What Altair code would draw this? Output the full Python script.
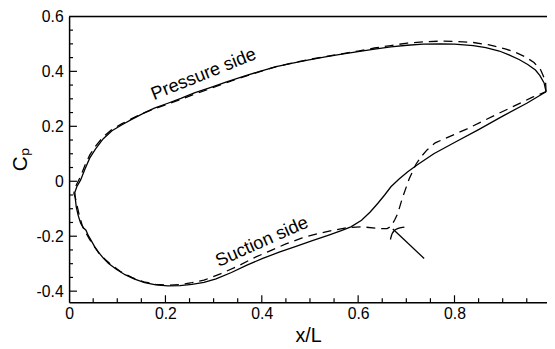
import altair as alt
import pandas as pd

# ---- data (x/L, Cp) ----
solid_x = [0.990, 0.986, 0.977, 0.968, 0.952, 0.934, 0.913, 0.893, 0.865, 0.839, 0.800, 0.771, 0.735, 0.702,
           0.668, 0.634, 0.600, 0.566, 0.532, 0.498, 0.464, 0.430, 0.396, 0.362, 0.327, 0.293, 0.260, 0.232,
           0.205, 0.177, 0.153, 0.130, 0.109, 0.089, 0.071, 0.055, 0.043, 0.033, 0.024, 0.016, 0.012,
           0.013, 0.015, 0.019, 0.024, 0.030, 0.035, 0.040, 0.046, 0.053, 0.061, 0.071, 0.082, 0.098, 0.116,
           0.136, 0.157, 0.180, 0.205, 0.230, 0.255, 0.280, 0.305, 0.337, 0.368, 0.402, 0.436, 0.471, 0.505,
           0.539, 0.565, 0.585, 0.607, 0.625, 0.641, 0.655, 0.668, 0.685, 0.703, 0.723, 0.757, 0.800, 0.850,
           0.900, 0.950, 0.990]
solid_y = [0.326, 0.358, 0.385, 0.405, 0.425, 0.443, 0.460, 0.474, 0.486, 0.494, 0.499, 0.500, 0.499, 0.495,
           0.489, 0.481, 0.472, 0.463, 0.453, 0.442, 0.430, 0.417, 0.400, 0.382, 0.362, 0.341, 0.322, 0.302,
           0.284, 0.266, 0.246, 0.225, 0.205, 0.184, 0.155, 0.118, 0.085, 0.045, 0.005, -0.020, -0.040,
           -0.065, -0.095, -0.125, -0.153, -0.170, -0.178, -0.198, -0.216, -0.238, -0.258, -0.280, -0.299, -0.320, -0.340,
           -0.356, -0.369, -0.377, -0.381, -0.380, -0.375, -0.368, -0.355, -0.332, -0.306, -0.281, -0.258, -0.237, -0.216,
           -0.196, -0.180, -0.166, -0.142, -0.112, -0.080, -0.050, -0.020, 0.008, 0.035, 0.060, 0.100, 0.141, 0.188,
           0.237, 0.284, 0.326]

dash_x = [0.990, 0.989, 0.979, 0.965, 0.948, 0.928, 0.907, 0.870, 0.839, 0.800, 0.771, 0.735, 0.702, 0.668,
          0.634, 0.600, 0.566, 0.532, 0.498, 0.464, 0.430, 0.396, 0.362, 0.327, 0.293, 0.260, 0.232, 0.205,
          0.177, 0.153, 0.130, 0.109, 0.089, 0.071, 0.055, 0.043, 0.033, 0.024, 0.016, 0.011, 0.010,
          0.013, 0.018, 0.022, 0.028, 0.034, 0.042, 0.050, 0.062, 0.075, 0.090, 0.108, 0.130, 0.155, 0.180,
          0.205, 0.230, 0.255, 0.280, 0.314, 0.348, 0.382, 0.416, 0.450, 0.484, 0.518, 0.552, 0.580, 0.610,
          0.641, 0.660, 0.668, 0.676, 0.682, 0.692, 0.706, 0.720, 0.732, 0.743, 0.760, 0.777, 0.825, 0.893,
          0.962, 0.990]
dash_y = [0.326, 0.364, 0.405, 0.432, 0.452, 0.468, 0.481, 0.497, 0.505, 0.509, 0.510, 0.507, 0.503, 0.494,
          0.485, 0.474, 0.464, 0.454, 0.443, 0.431, 0.417, 0.399, 0.380, 0.359, 0.337, 0.317, 0.298, 0.281,
          0.264, 0.247, 0.228, 0.209, 0.189, 0.162, 0.128, 0.096, 0.058, 0.018, -0.010, -0.030, -0.045,
          -0.060, -0.100, -0.130, -0.165, -0.185, -0.210, -0.232, -0.262, -0.285, -0.307, -0.330, -0.350, -0.366, -0.375,
          -0.378, -0.376, -0.369, -0.360, -0.337, -0.311, -0.280, -0.254, -0.228, -0.206, -0.190, -0.177, -0.168, -0.166,
          -0.172, -0.172, -0.165, -0.140, -0.118, -0.060, 0.009, 0.062, 0.092, 0.114, 0.140, 0.153, 0.190, 0.248,
          0.306, 0.326]

arrow_shaft_x = [0.737, 0.672]
arrow_shaft_y = [-0.281, -0.174]
arrow_head_x = [0.696, 0.672, 0.667]
arrow_head_y = [-0.167, -0.174, -0.212]

labels_text = ["Pressure side", "Suction side"]
labels_x = [0.279, 0.400]
labels_y = [0.391, -0.2185]
labels_angle = [338, 336]

x_major = [0.2, 0.4, 0.6, 0.8]
x_minor = [0.05, 0.1, 0.15, 0.25, 0.3, 0.35, 0.45, 0.5, 0.55, 0.65, 0.7, 0.75, 0.85, 0.9, 0.95]
y_major = [-0.4, -0.2, 0, 0.2, 0.4]
y_minor = [-0.35, -0.3, -0.25, -0.15, -0.1, -0.05, 0.05, 0.1, 0.15, 0.25, 0.3, 0.35, 0.45, 0.5, 0.55]
x_labels = [0, 0.2, 0.4, 0.6, 0.8]
y_labels = [-0.4, -0.2, 0, 0.2, 0.4, 0.6]

W, H = 485, 290
FONT = "Liberation Sans"

xs = alt.Scale(domain=[0, 0.992], nice=False, zero=False)
ys = alt.Scale(domain=[-0.44, 0.6], nice=False, zero=False)

xaxis = alt.Axis(values=x_labels, title="x/L", ticks=False, tickSize=0, grid=False, domain=True,
                 domainColor="black", domainWidth=1.5, labelFont=FONT, labelFontSize=16, labelColor="black",
                 labelPadding=4, labelFlush=False, labelOverlap=False, labelExpr="'' + datum.value",
                 titleFont=FONT, titleFontSize=20, titleFontWeight="normal", titleColor="black", titlePadding=4)
yaxis = alt.Axis(values=y_labels, title="Cₚ", ticks=False, tickSize=0, grid=False, domain=True,
                 domainColor="black", domainWidth=1.5, labelFont=FONT, labelFontSize=16, labelColor="black",
                 labelPadding=6, labelFlush=False, labelOverlap=False, labelExpr="'' + datum.value",
                 titleFont=FONT, titleFontSize=21, titleFontWeight="normal", titleColor="black", titlePadding=6)


def X(f):
    return alt.X(f, type="quantitative", scale=xs, axis=xaxis)


def Y(f):
    return alt.Y(f, type="quantitative", scale=ys, axis=yaxis)


def curve(xv, yv):
    return pd.DataFrame({"x": xv, "y": yv, "o": list(range(len(xv)))})


solid = alt.Chart(curve(solid_x, solid_y)).mark_line(color="black", strokeWidth=1.3).encode(
    x=X("x"), y=Y("y"), order="o:Q")
dashed = alt.Chart(curve(dash_x, dash_y)).mark_line(color="black", strokeWidth=1.3, strokeDash=[9, 6]).encode(
    x=X("x"), y=Y("y"), order="o:Q")
shaft = alt.Chart(curve(arrow_shaft_x, arrow_shaft_y)).mark_line(color="black", strokeWidth=1.3).encode(
    x=X("x"), y=Y("y"), order="o:Q")
head = alt.Chart(curve(arrow_head_x, arrow_head_y)).mark_line(color="black", strokeWidth=1.3,
                                                               interpolate="basis").encode(
    x=X("x"), y=Y("y"), order="o:Q")

lab_df = pd.DataFrame({"t": labels_text, "x": labels_x, "y": labels_y, "a": labels_angle})
texts = alt.Chart(lab_df).mark_text(font=FONT, fontSize=18.5, color="black", align="center",
                                    baseline="middle").encode(
    x=X("x"), y=Y("y"), text="t:N", angle=alt.Angle("a:Q", scale=None))

xt_major = alt.Chart(pd.DataFrame({"v": x_major})).mark_rule(color="black", strokeWidth=1.2).encode(
    x=X("v"), y=alt.value(H), y2=alt.value(H - 7))
xt_minor = alt.Chart(pd.DataFrame({"v": x_minor})).mark_rule(color="black", strokeWidth=1.2).encode(
    x=X("v"), y=alt.value(H), y2=alt.value(H - 4))
yt_major = alt.Chart(pd.DataFrame({"v": y_major})).mark_rule(color="black", strokeWidth=1.2).encode(
    y=Y("v"), x=alt.value(0), x2=alt.value(8))
yt_minor = alt.Chart(pd.DataFrame({"v": y_minor})).mark_rule(color="black", strokeWidth=1.2).encode(
    y=Y("v"), x=alt.value(0), x2=alt.value(4))
top_border = alt.Chart(pd.DataFrame({"v": [0]})).mark_rule(color="black", strokeWidth=1.5).encode(
    x=alt.value(0), x2=alt.value(W), y=alt.value(0))

chart = alt.layer(
    xt_major, xt_minor, yt_major, yt_minor, top_border, solid, dashed, shaft, head, texts
).properties(
    width=W, height=H,
    padding={"left": 62, "top": 6, "right": 0, "bottom": 44},
    autosize=alt.AutoSizeParams(type="none"),
).configure_view(stroke=None).configure(background="white")

chart.save("out.html", embed_options={"renderer": "svg", "actions": False})
